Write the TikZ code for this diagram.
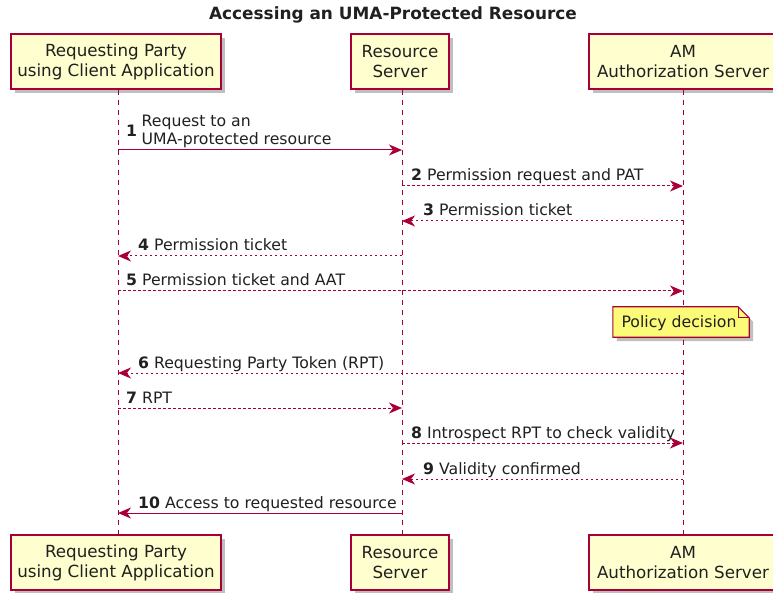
\documentclass[tikz,border=0pt]{standalone}
\usepackage{fontspec}
\setmainfont{DejaVu Sans}
\usetikzlibrary{arrows.meta,shadows}
\definecolor{pline}{HTML}{A80036}
\definecolor{pfill}{HTML}{FEFECE}
\definecolor{nfill}{HTML}{FBFB77}
\definecolor{ptext}{HTML}{202020}
\tikzset{
  pshadow/.style={drop shadow={shadow xshift=4pt,shadow yshift=-4pt,fill=black,opacity=0.25}},
  part/.style={draw=pline,fill=pfill,line width=1.4pt,pshadow,align=center,inner sep=0pt,
    minimum height=55pt,text=ptext,font=\fontsize{16.7}{20}\selectfont},
  lifeline/.style={draw=pline,line width=1pt,dash pattern=on 5pt off 5pt},
  msgsolid/.style={draw=pline,line width=1pt,-{Stealth[length=13pt,width=11pt,inset=4pt]}},
  msgdash/.style={msgsolid,dash pattern=on 2.5pt off 2.5pt},
  lbl/.style={anchor=base west,inner sep=0pt,text=ptext,font=\fontsize{15.7}{18}\selectfont},
  notebox/.style={draw=pline,fill=nfill,line width=1.1pt,pshadow},
  notetext/.style={inner sep=0pt,minimum width=136pt,minimum height=30pt,text=ptext,font=\fontsize{15.7}{18}\selectfont},
}
\begin{document}
\begin{tikzpicture}[x=1pt,y=-1pt]
\clip (0,0) rectangle (773,593);
\fill[white] (0,0) rectangle (773,593);
% title
\node[inner sep=0pt,text=ptext,font=\bfseries\fontsize{16.9}{19}\selectfont] (title) at (393,15) {Accessing an UMA-Protected Resource};
% participants
\node[part,minimum width=210pt] (a1) at (116,61.5) {Requesting Party\\using Client Application};
\node[part,minimum width=98pt] (b1) at (400,61.5) {Resource\\Server};
\node[part,minimum width=188pt] (c1) at (683,61.5) {AM\\Authorization Server};
\node[part,minimum width=210pt] (a2) at (116,562.5) {Requesting Party\\using Client Application};
\node[part,minimum width=98pt] (b2) at (400,562.5) {Resource\\Server};
\node[part,minimum width=188pt] (c2) at (683,562.5) {AM\\Authorization Server};
% lifelines
\draw[lifeline] ([xshift=2pt]a1.south) -- ([xshift=2pt]a2.north);
\draw[lifeline] ([xshift=2pt]b1.south) -- ([xshift=2pt]b2.north);
\draw[lifeline] (c1.south) -- (c2.north);
% message end points
\coordinate (m1a) at (118,150); \coordinate (m1b) at (402,150);
\coordinate (m2b) at (402,186); \coordinate (m2c) at (683,186);
\coordinate (m3c) at (683,221); \coordinate (m3b) at (402,221);
\coordinate (m4b) at (402,256); \coordinate (m4a) at (118,256);
\coordinate (m5a) at (118,291); \coordinate (m5c) at (683,291);
\coordinate (m6c) at (683,373); \coordinate (m6a) at (118,373);
\coordinate (m7a) at (118,408); \coordinate (m7b) at (402,408);
\coordinate (m8b) at (402,443); \coordinate (m8c) at (683,443);
\coordinate (m9c) at (683,479); \coordinate (m9b) at (402,479);
\coordinate (m10b) at (402,513); \coordinate (m10a) at (118,513);
% messages
\draw[msgsolid] (m1a) -- (m1b);
\node[lbl] (l1n) at (126,137) {\textbf{1}};
\node[lbl] (l1a) at (141.5,127) {Request to an};
\node[lbl] (l1b) at (141.5,144.5) {UMA-protected resource};
\draw[msgdash] (m2b) -- (m2c);
\node[lbl] (l2) at (411,181) {\textbf{2} Permission request and PAT};
\draw[msgdash] (m3c) -- (m3b);
\node[lbl] (l3) at (423,216) {\textbf{3} Permission ticket};
\draw[msgdash] (m4b) -- (m4a);
\node[lbl] (l4) at (138,251) {\textbf{4} Permission ticket};
\draw[msgdash] (m5a) -- (m5c);
\node[lbl] (l5) at (126,286) {\textbf{5} Permission ticket and AAT};
% note
\node[notetext] (note) at (681,322) {};
\filldraw[notebox] (note.north west) -- ([xshift=-11pt]note.north east) -- ([yshift=-11pt]note.north east)
  -- (note.south east) -- (note.south west) -- cycle;
\draw[draw=pline,line width=1.1pt] ([xshift=-11pt]note.north east) |- ([yshift=-11pt]note.north east);
\node[notetext] (notet) at (679,323) {Policy decision};
\draw[msgdash] (m6c) -- (m6a);
\node[lbl] (l6) at (138,368) {\textbf{6} Requesting Party Token (RPT)};
\draw[msgdash] (m7a) -- (m7b);
\node[lbl] (l7) at (126,403) {\textbf{7} RPT};
\draw[msgdash] (m8b) -- (m8c);
\node[lbl] (l8) at (411,438) {\textbf{8} Introspect RPT to check validity};
\draw[msgdash] (m9c) -- (m9b);
\node[lbl] (l9) at (423,474) {\textbf{9} Validity confirmed};
\draw[msgsolid] (m10b) -- (m10a);
\node[lbl] (l10) at (138,508) {\textbf{10} Access to requested resource};
\end{tikzpicture}
\end{document}
